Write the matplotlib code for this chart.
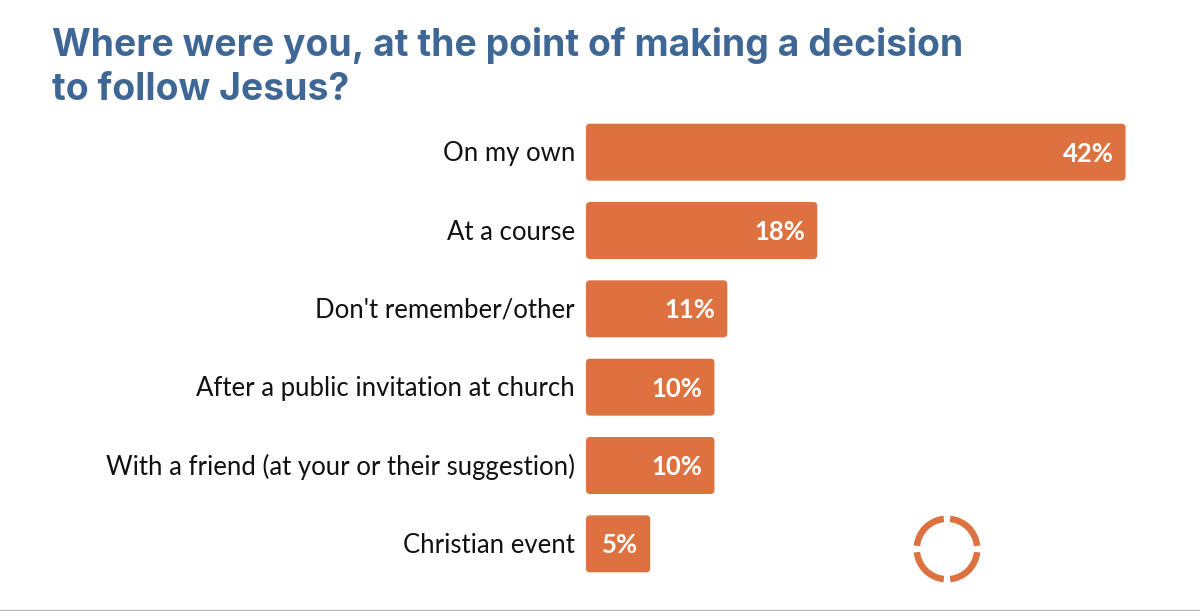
import matplotlib
matplotlib.use("Agg")
import matplotlib.pyplot as plt
from matplotlib.patches import FancyBboxPatch, Wedge

categories = ["On my own", "At a course", "Don't remember/other",
              "After a public invitation at church",
              "With a friend (at your or their suggestion)", "Christian event"]
values = [42, 18, 11, 10, 10, 5]
labels = ["42%", "18%", "11%", "10%", "10%", "5%"]
title_lines = ["Where were you, at the point of making a decision", "to follow Jesus?"]

W, H = 1200, 611
ORANGE = "#DD7240"
BLUE = "#3F6796"
plt.rcParams['font.family'] = ['Lato', 'DejaVu Sans']
fig = plt.figure(figsize=(W/100, H/100), dpi=100, facecolor="white")

# axes pixel region: x from 586 to 1126, y from 113 to 583
ax = fig.add_axes([586/W, 1-583/H, 539.5/W, 470/H])
ax.set_xlim(0, 42)
ax.set_ylim(5.5, -0.5)
ax.axis("off")
xs = 42/539.5
ys = 6/470
for i, (c, v, l) in enumerate(zip(categories, values, labels)):
    h = 57*ys
    ax.add_patch(FancyBboxPatch((0, i-h/2), v, h,
                                boxstyle=f"round,pad=0,rounding_size={4*xs}",
                                mutation_aspect=ys/xs, fc=ORANGE, ec="none"))
    ax.text(-11*xs, i+1.5*ys, c, ha="right", va="center", fontsize=18.5,
            color="#111111", clip_on=False)
    ax.text(v-12*xs, i+1.5*ys, l, ha="right", va="center", fontsize=18.5,
            color="white", fontweight="bold")

fig.text(52/W, 1-45/H, title_lines[0], fontsize=26.85, fontweight="bold",
         family=['Inter', 'DejaVu Sans'], color=BLUE, va="center", ha="left")
fig.text(52/W, 1-90/H, title_lines[1], fontsize=26.85, fontweight="bold",
         family=['Inter', 'DejaVu Sans'], color=BLUE, va="center", ha="left")

# logo: four tapered arc segments
lax = fig.add_axes([0, 0, 1, 1], facecolor="none")
lax.set_xlim(0, W); lax.set_ylim(H, 0); lax.axis("off")
for a1, a2 in [(6, 84), (96, 174), (186, 264), (276, 354)]:
    lax.add_patch(Wedge((947, 549), 33.5, a1, a2, width=6.5, fc=ORANGE, ec="none"))
lax.plot([0, W], [610, 610], color="#BBBBBB", lw=1)

fig.savefig("out.png", dpi=100)
